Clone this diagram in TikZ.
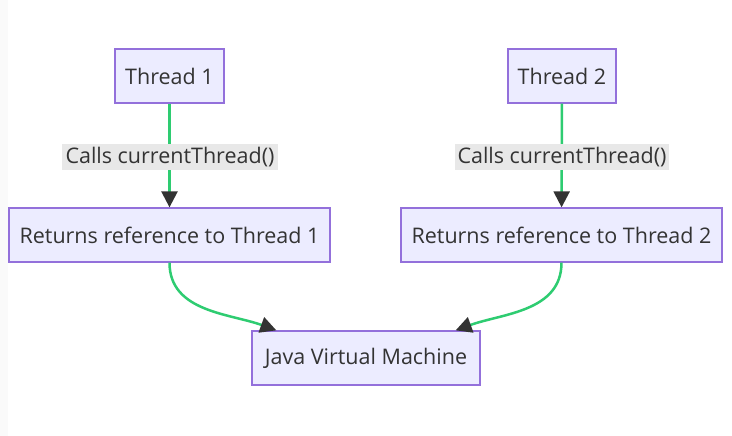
\documentclass[tikz,border=0pt]{standalone}
\usepackage{fontspec}
\setmainfont{Open Sans}
\usetikzlibrary{arrows.meta}
\definecolor{nodefill}{HTML}{ECECFF}
\definecolor{nodeline}{HTML}{9370DB}
\definecolor{edgegreen}{HTML}{2ECC71}
\definecolor{txt}{HTML}{333333}
\definecolor{lblfill}{HTML}{E8E8E8}
\tikzset{
  box/.style={draw=nodeline, fill=nodefill, line width=1.3pt, inner sep=0pt,
    text=txt, font=\fontsize{21.5}{24}\selectfont, minimum height=54pt},
  edge/.style={draw=edgegreen, line width=2.5pt,
    -{Triangle[length=16pt,width=16pt,color=txt]}},
  lbl/.style={fill=lblfill, text=txt, inner sep=0pt, minimum height=26pt,
    font=\fontsize{21.5}{24}\selectfont}
}
\begin{document}
\begin{tikzpicture}[x=1pt,y=-1pt]
\useasboundingbox (0,0) rectangle (732,436);
\fill[white] (0,0) rectangle (732,436);
\fill[black!2] (0,0) rectangle (8,436);
\node[box, minimum width=109pt] (t1) at (169.5,76) {Thread 1};
\node[box, minimum width=108pt] (t2) at (562,76) {Thread 2};
\node[box, minimum width=321pt] (r1) at (169.5,235) {Returns reference to Thread 1};
\node[box, minimum width=321pt] (r2) at (561.5,235) {Returns reference to Thread 2};
\node[box, minimum width=228pt] (jvm) at (366,358) {Java Virtual Machine};
\coordinate (j1) at ([xshift=25pt]jvm.north west);
\coordinate (j2) at ([xshift=-25pt]jvm.north east);
\draw[edge] (t1) -- (r1);
\draw[edge] (t2) -- (r2);
\node[lbl, minimum width=216pt] (l1) at (170,157) {Calls currentThread()};
\node[lbl, minimum width=214pt] (l2) at (562,157) {Calls currentThread()};
\draw[edge] (r1.south) to[out=-90,in=160] (j1);
\draw[edge] (r2.south) to[out=-90,in=20] (j2);
\end{tikzpicture}
\end{document}
